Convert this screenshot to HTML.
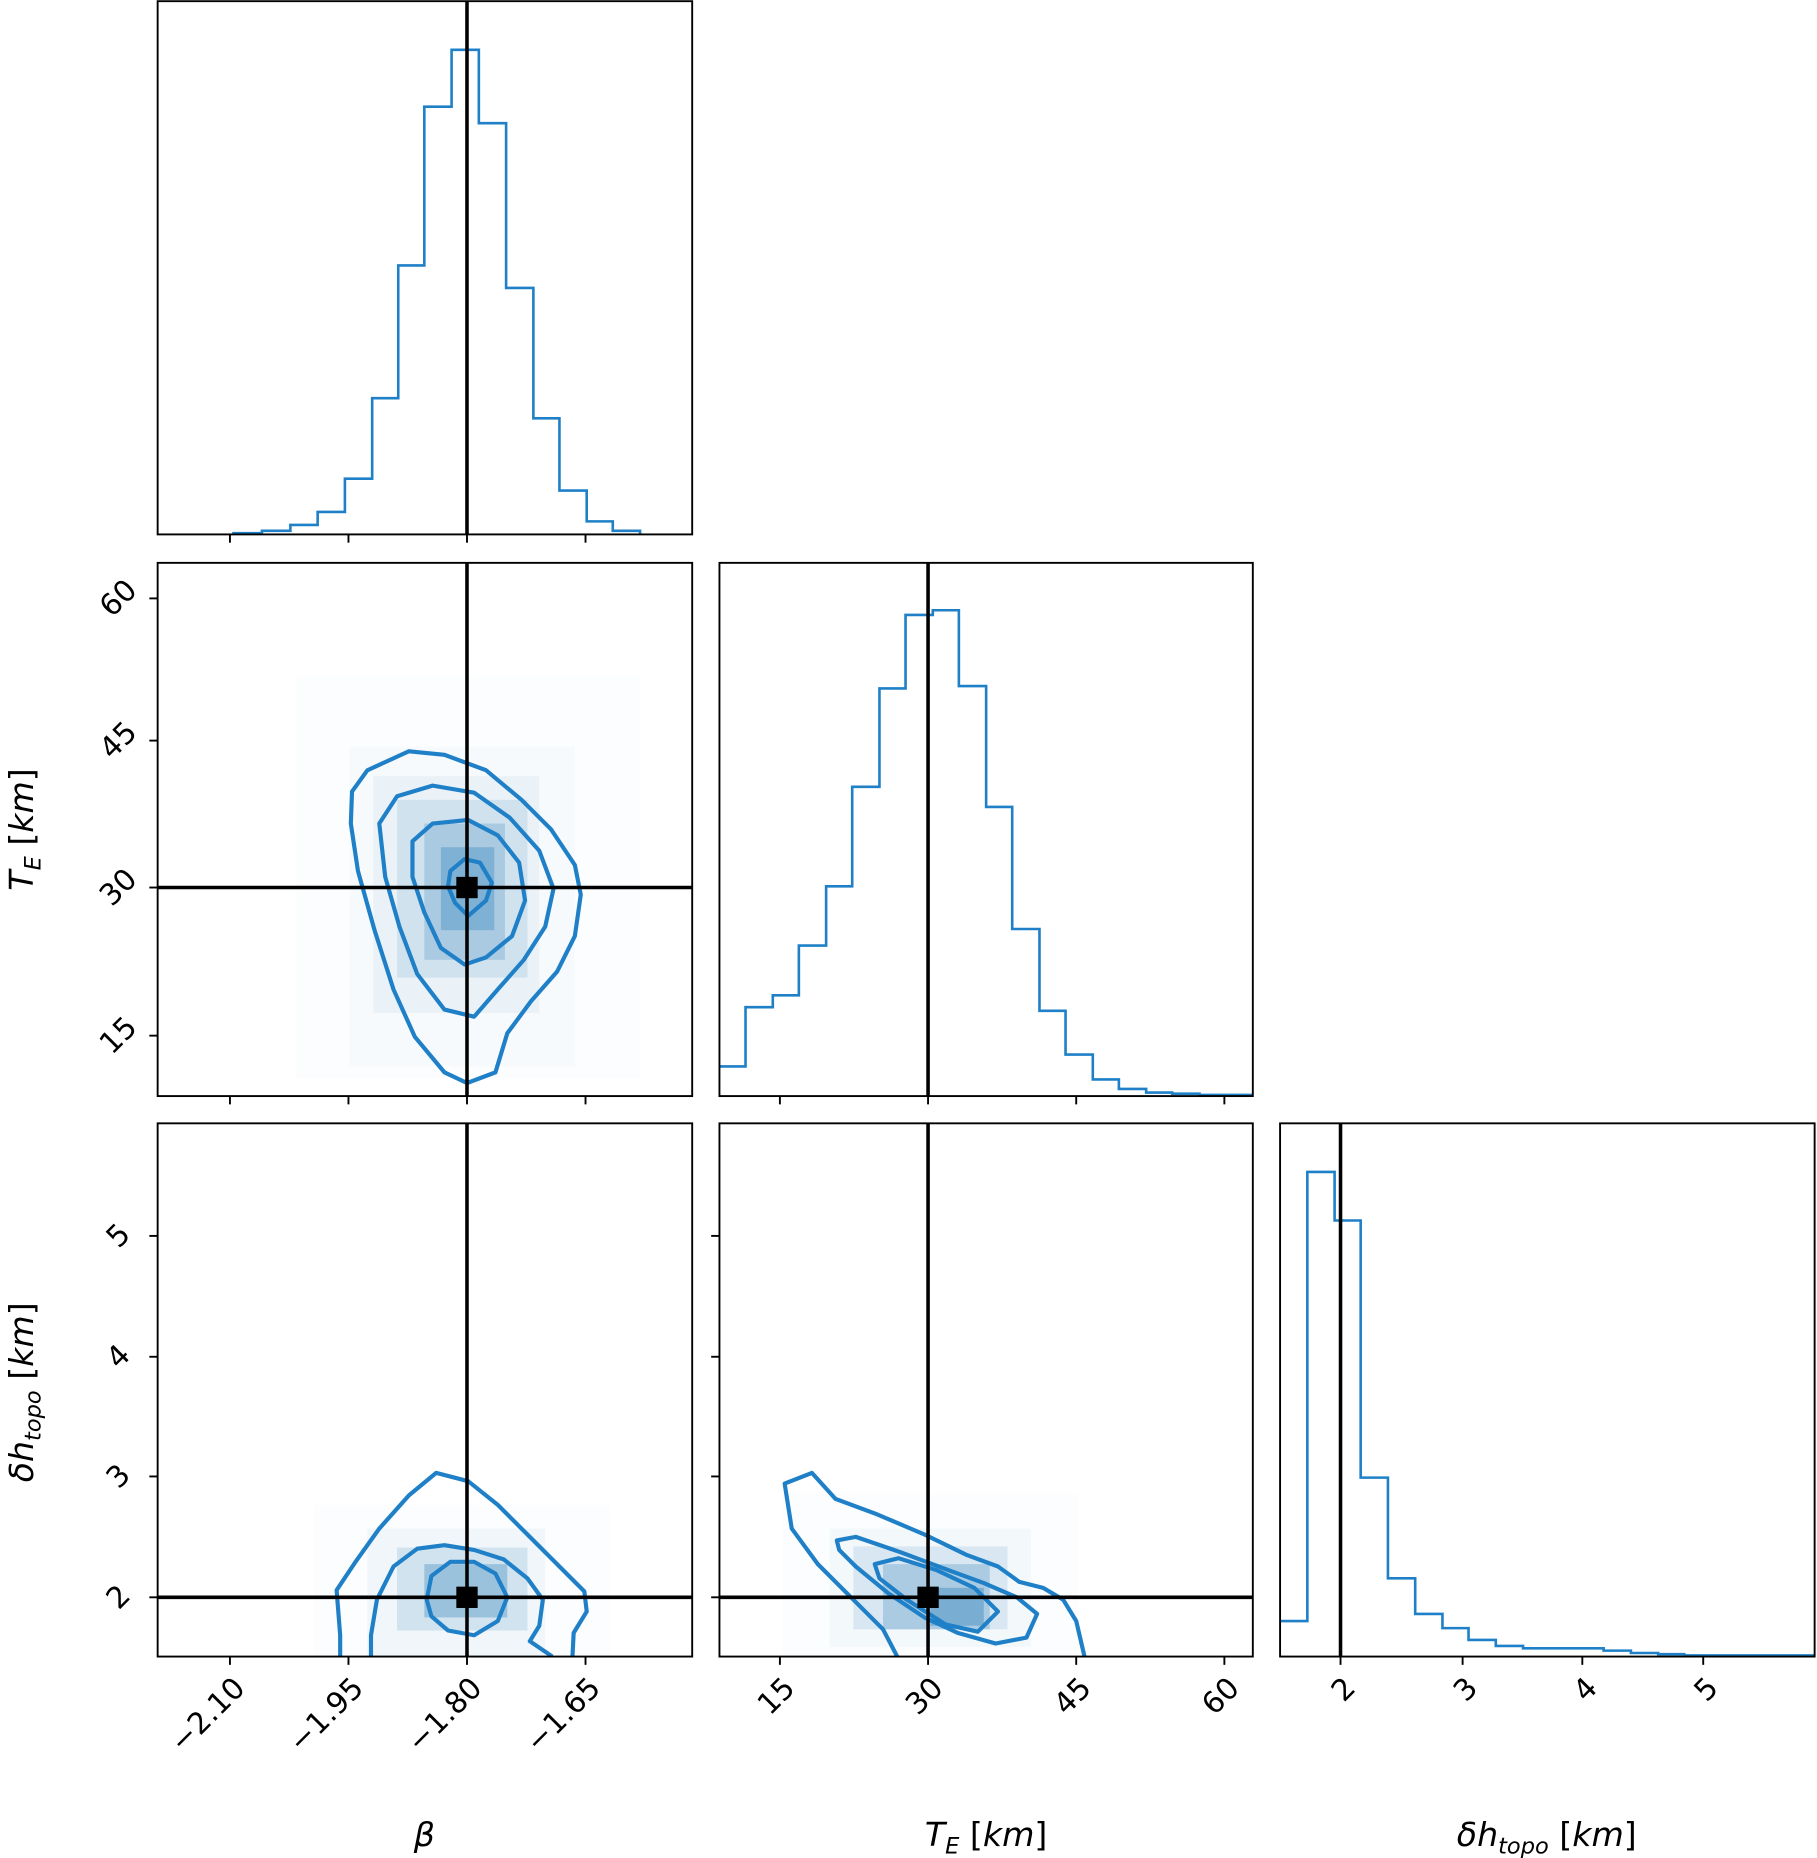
<!DOCTYPE html>
<html><head><meta charset="utf-8"><style>html,body{margin:0;padding:0;background:#fff}svg{display:block}</style></head>
<body>
<svg width="1817" height="1858" viewBox="0 0 1533 1568" preserveAspectRatio="none" xmlns="http://www.w3.org/2000/svg" font-family="DejaVu Sans, Liberation Sans, sans-serif" font-size="25">
<defs>
<clipPath id="c21"><rect x="133" y="475" width="451" height="450"/></clipPath>
<clipPath id="c31"><rect x="133" y="948" width="451" height="450"/></clipPath>
<clipPath id="c32"><rect x="607" y="948" width="450" height="450"/></clipPath>
</defs>
<g clip-path="url(#c21)" fill="#1f77b4">
<rect x="250" y="570" width="290" height="340" opacity="0.012"/>
<rect x="295" y="630" width="190" height="270" opacity="0.025"/>
<rect x="315" y="655" width="140" height="200" opacity="0.06"/>
<rect x="335" y="675" width="110" height="150" opacity="0.12"/>
<rect x="358" y="695" width="68" height="115" opacity="0.22"/>
<rect x="372" y="715" width="45" height="70" opacity="0.3"/>
</g>
<g clip-path="url(#c31)" fill="#1f77b4">
<rect x="265" y="1270" width="250" height="128" opacity="0.015"/>
<rect x="310" y="1290" width="150" height="108" opacity="0.05"/>
<rect x="335" y="1306" width="110" height="70" opacity="0.15"/>
<rect x="358" y="1320" width="70" height="45" opacity="0.3"/>
</g>
<g clip-path="url(#c32)" fill="#1f77b4">
<rect x="660" y="1260" width="250" height="138" opacity="0.012"/>
<rect x="700" y="1290" width="170" height="100" opacity="0.04"/>
<rect x="720" y="1305" width="130" height="70" opacity="0.12"/>
<rect x="745" y="1320" width="90" height="55" opacity="0.25"/>
<rect x="785" y="1340" width="45" height="32" opacity="0.35"/>
</g>
<polyline fill="none" stroke="#1f80c8" stroke-width="2.2" points="197,451 197,450 221,450 221,448 245,448 245,443 268,443 268,432 291,432 291,404 314,404 314,336 336,336 336,224 358,224 358,90 381,90 381,42 404,42 404,104 427,104 427,243 450,243 450,353 472,353 472,414 495,414 495,440 517,440 517,448 540,448 540,451"/>
<polyline fill="none" stroke="#1f80c8" stroke-width="2.2" points="607,900 629,900 629,850 652,850 652,840 674,840 674,798 697,798 697,748 719,748 719,664 742,664 742,581 764,581 764,519 787,519 787,515 809,515 809,579 832,579 832,681 854,681 854,784 877,784 877,853 899,853 899,890 922,890 922,911 944,911 944,919 967,919 967,922 989,922 989,923 1012,923 1012,924 1057,924"/>
<polyline fill="none" stroke="#1f80c8" stroke-width="2.2" points="1080,1368 1103,1368 1103,989 1126,989 1126,1030 1148,1030 1148,1247 1171,1247 1171,1332 1194,1332 1194,1362 1217,1362 1217,1374 1239,1374 1239,1384 1262,1384 1262,1389 1285,1389 1285,1391 1353,1391 1353,1393 1376,1393 1376,1395 1399,1395 1399,1396 1421,1396 1421,1397 1531,1397"/>
<g clip-path="url(#c21)" fill="none" stroke="#1f80c8" stroke-width="3.5" stroke-linejoin="round">
<polygon points="297,668 310,650 345,634 375,637 410,650 440,675 465,700 485,730 490,755 485,790 470,820 448,845 428,872 418,905 394,914 375,905 350,875 332,835 316,785 302,735 296,695"/>
<polygon points="320,695 335,672 365,663 400,669 430,690 455,718 467,750 460,782 442,810 420,835 400,858 375,852 352,822 337,782 325,740"/>
<polygon points="348,710 365,695 395,692 420,705 438,728 443,760 432,790 410,808 392,814 372,800 358,770 348,740"/>
<polygon points="380,735 392,725 405,728 415,745 410,760 395,773 384,762 378,748"/>
</g>
<g clip-path="url(#c31)" fill="none" stroke="#1f80c8" stroke-width="3.5" stroke-linejoin="round">
<polyline points="287,1398 287,1380 284,1342 300,1318 320,1290 345,1262 368,1243 395,1250 420,1270 445,1295 470,1320 493,1343 495,1360 484,1378 483,1398"/>
<polyline points="313,1398 313,1380 318,1350 332,1322 352,1307 375,1304 400,1308 425,1316 445,1332 458,1350 455,1372 447,1385 466,1398"/>
<polygon points="360,1350 364,1330 380,1318 400,1318 418,1328 428,1348 420,1368 400,1380 378,1376 364,1364"/>
</g>
<g clip-path="url(#c32)" fill="none" stroke="#1f80c8" stroke-width="3.5" stroke-linejoin="round">
<polyline points="757,1398 745,1375 720,1350 690,1320 668,1290 662,1252 685,1243 705,1265 740,1278 780,1295 815,1312 842,1322 860,1335 880,1340 897,1350 908,1368 915,1398"/>
<polygon points="706,1300 722,1297 760,1310 800,1325 830,1336 858,1348 875,1362 866,1382 840,1387 808,1378 780,1365 750,1345 722,1322 708,1308"/>
<polygon points="738,1320 758,1315 790,1325 822,1340 842,1360 825,1377 798,1371 765,1350 742,1332"/>
</g>
<g stroke="#000" stroke-width="3">
<line x1="394" y1="1" x2="394" y2="451"/>
<line x1="394" y1="475" x2="394" y2="925"/>
<line x1="394" y1="948" x2="394" y2="1398"/>
<line x1="783" y1="475" x2="783" y2="925"/>
<line x1="783" y1="948" x2="783" y2="1398"/>
<line x1="1131" y1="948" x2="1131" y2="1398"/>
<line x1="133" y1="749" x2="584" y2="749"/>
<line x1="133" y1="1348" x2="584" y2="1348"/>
<line x1="607" y1="1348" x2="1057" y2="1348"/>
</g>
<rect x="385" y="740" width="18" height="18" fill="#000"/>
<rect x="385" y="1339" width="18" height="18" fill="#000"/>
<rect x="774" y="1339" width="18" height="18" fill="#000"/>
<g fill="none" stroke="#000" stroke-width="1.6">
<rect x="133" y="1" width="451" height="450"/>
<rect x="133" y="475" width="451" height="450"/>
<rect x="133" y="948" width="451" height="450"/>
<rect x="607" y="475" width="450" height="450"/>
<rect x="607" y="948" width="450" height="450"/>
<rect x="1080" y="948" width="451" height="450"/>
</g>
<g stroke="#000" stroke-width="1.6">
<line x1="194" y1="451" x2="194" y2="458"/><line x1="294" y1="451" x2="294" y2="458"/><line x1="394" y1="451" x2="394" y2="458"/><line x1="494" y1="451" x2="494" y2="458"/>
<line x1="194" y1="925" x2="194" y2="932"/><line x1="294" y1="925" x2="294" y2="932"/><line x1="394" y1="925" x2="394" y2="932"/><line x1="494" y1="925" x2="494" y2="932"/>
<line x1="194" y1="1398" x2="194" y2="1405"/><line x1="294" y1="1398" x2="294" y2="1405"/><line x1="394" y1="1398" x2="394" y2="1405"/><line x1="494" y1="1398" x2="494" y2="1405"/>
<line x1="658" y1="925" x2="658" y2="932"/><line x1="783" y1="925" x2="783" y2="932"/><line x1="908" y1="925" x2="908" y2="932"/><line x1="1033" y1="925" x2="1033" y2="932"/>
<line x1="658" y1="1398" x2="658" y2="1405"/><line x1="783" y1="1398" x2="783" y2="1405"/><line x1="908" y1="1398" x2="908" y2="1405"/><line x1="1033" y1="1398" x2="1033" y2="1405"/>
<line x1="1131" y1="1398" x2="1131" y2="1405"/><line x1="1234" y1="1398" x2="1234" y2="1405"/><line x1="1335" y1="1398" x2="1335" y2="1405"/><line x1="1437" y1="1398" x2="1437" y2="1405"/>
<line x1="126" y1="505" x2="133" y2="505"/><line x1="126" y1="625" x2="133" y2="625"/><line x1="126" y1="749" x2="133" y2="749"/><line x1="126" y1="874" x2="133" y2="874"/>
<line x1="126" y1="1043" x2="133" y2="1043"/><line x1="126" y1="1145" x2="133" y2="1145"/><line x1="126" y1="1246" x2="133" y2="1246"/><line x1="126" y1="1348" x2="133" y2="1348"/>
<line x1="600" y1="1043" x2="607" y2="1043"/><line x1="600" y1="1145" x2="607" y2="1145"/><line x1="600" y1="1246" x2="607" y2="1246"/><line x1="600" y1="1348" x2="607" y2="1348"/>
</g>
<g text-anchor="end" fill="#000">
<text transform="translate(208,1426) rotate(-45)">−2.10</text>
<text transform="translate(308,1426) rotate(-45)">−1.95</text>
<text transform="translate(408,1426) rotate(-45)">−1.80</text>
<text transform="translate(508,1426) rotate(-45)">−1.65</text>
<text transform="translate(672,1426) rotate(-45)">15</text>
<text transform="translate(797,1426) rotate(-45)">30</text>
<text transform="translate(922,1426) rotate(-45)">45</text>
<text transform="translate(1047,1426) rotate(-45)">60</text>
<text transform="translate(1145,1426) rotate(-45)">2</text>
<text transform="translate(1248,1426) rotate(-45)">3</text>
<text transform="translate(1349,1426) rotate(-45)">4</text>
<text transform="translate(1451,1426) rotate(-45)">5</text>
</g>
<g text-anchor="middle" fill="#000">
<text transform="translate(100,505) rotate(-45)" dy="8">60</text>
<text transform="translate(100,625) rotate(-45)" dy="8">45</text>
<text transform="translate(100,749) rotate(-45)" dy="8">30</text>
<text transform="translate(100,874) rotate(-45)" dy="8">15</text>
<text transform="translate(100,1043) rotate(-45)" dy="8">5</text>
<text transform="translate(100,1145) rotate(-45)" dy="8">4</text>
<text transform="translate(100,1246) rotate(-45)" dy="8">3</text>
<text transform="translate(100,1348) rotate(-45)" dy="8">2</text>
</g>
<g font-size="28" fill="#000" text-anchor="middle" font-style="italic">
<text x="358" y="1558">β</text>
<text x="832" y="1558">T<tspan font-size="19" dy="6">E</tspan><tspan dy="-6" font-style="normal"> [</tspan>km<tspan font-style="normal">]</tspan></text>
<text x="1305" y="1558">δh<tspan font-size="19" dy="6">topo</tspan><tspan dy="-6" font-style="normal"> [</tspan>km<tspan font-style="normal">]</tspan></text>
<text transform="translate(28,700) rotate(-90)">T<tspan font-size="19" dy="6">E</tspan><tspan dy="-6" font-style="normal"> [</tspan>km<tspan font-style="normal">]</tspan></text>
<text transform="translate(28,1175) rotate(-90)">δh<tspan font-size="19" dy="6">topo</tspan><tspan dy="-6" font-style="normal"> [</tspan>km<tspan font-style="normal">]</tspan></text>
</g>
</svg>
</body></html>
